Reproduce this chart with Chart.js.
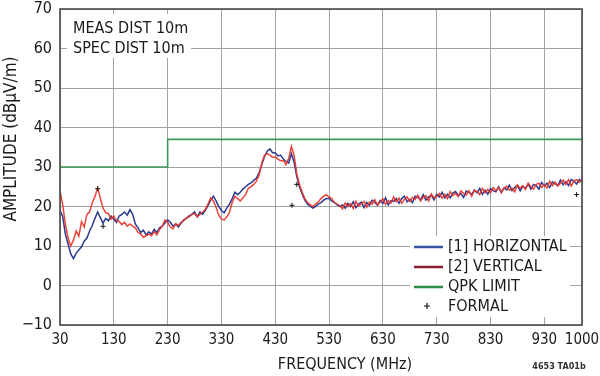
<!DOCTYPE html>
<html>
<head>
<meta charset="utf-8">
<script src="https://cdn.jsdelivr.net/npm/chart.js@4/dist/chart.umd.min.js"></script>
<style>
html,body{margin:0;padding:0;background:#fff;}
#wrap{width:600px;height:376px;position:relative;}
</style>
</head>
<body>
<div id="wrap"><canvas id="c" width="600" height="376"></canvas></div>
<script>
// ---- DATA ----
const freq = [30,35,40,45,50,55,60,65,70,75,80,85,90,95,100,105,110,115,120,125,130,135,140,145,150,155,160,165,170,175,180,185,190,195,200,205,210,215,220,225,230,235,240,245,250,255,260,265,270,275,280,285,290,295,300,305,310,315,320,325,330,335,340,345,350,355,360,365,370,375,380,385,390,395,400,405,410,415,420,425,430,435,440,445,450,455,460,465,470,475,480,485,490,495,500,505,510,515,520,525,530,535,540,545,550,555,560,565,570,575,580,585,590,595,600,605,610,615,620,625,630,635,640,645,650,655,660,665,670,675,680,685,690,695,700,705,710,715,720,725,730,735,740,745,750,755,760,765,770,775,780,785,790,795,800,805,810,815,820,825,830,835,840,845,850,855,860,865,870,875,880,885,890,895,900,905,910,915,920,925,930,935,940,945,950,955,960,965,970,975,980,985,990,995,1000];
const horizontal = [19.0,17.5,13.0,10.5,8.0,6.8,8.2,9.0,9.8,11.2,12.0,13.8,15.2,17.0,18.6,17.2,15.8,17.0,16.4,17.6,16.8,16.0,17.6,18.0,18.6,17.8,19.2,18.0,15.6,14.6,13.4,14.0,12.8,13.6,13.0,14.2,13.4,14.6,15.0,15.8,16.6,16.0,15.0,15.6,14.8,15.8,16.6,17.0,17.6,18.0,18.6,17.4,18.6,18.0,19.0,20.2,21.6,22.6,21.4,20.0,19.0,18.4,19.6,20.6,22.0,23.6,23.0,23.6,24.4,25.0,25.6,26.0,26.6,27.2,28.6,30.6,32.6,34.0,34.6,33.6,33.6,32.8,33.0,32.0,31.4,31.0,33.4,31.2,27.6,25.0,23.2,21.6,20.6,20.0,19.6,20.0,20.6,21.0,21.6,22.0,22.0,21.4,21.0,20.4,20.0,
  20.4,19.6,20.8,20.0,21.2,19.7,20.6,21.1,19.7,21.0,20.3,21.6,21.0,20.3,21.5,20.8,22.2,20.4,21.5,21.3,22.0,20.8,22.0,22.6,21.2,21.8,21.0,22.6,22.3,21.7,23.0,21.6,22.4,22.9,21.7,23.1,22.4,23.6,22.2,23.1,22.2,23.4,23.8,22.8,23.3,22.3,23.9,23.6,23.0,24.2,23.5,24.6,23.1,24.1,23.1,24.5,24.0,23.7,25.0,23.6,24.7,24.2,25.4,24.0,24.8,25.3,24.0,25.1,24.6,25.7,24.4,25.6,25.3,24.4,26.1,25.2,25.9,24.8,26.2,25.7,25.3,26.7,25.5,26.3,25.3,26.8,26.4,25.7,26.8,26.3];
const vertical = [24.0,20.5,15.5,12.0,10.0,11.5,13.8,12.5,16.2,14.8,18.0,18.6,21.0,22.5,24.8,22.0,19.6,18.4,18.2,16.8,17.6,16.4,16.2,15.4,16.0,15.0,15.6,15.0,14.6,13.4,13.0,12.2,12.6,13.0,12.6,13.6,12.8,14.2,15.0,16.6,16.0,14.8,14.4,15.6,15.2,16.0,16.4,17.2,17.4,18.0,18.2,17.4,18.0,18.6,19.2,20.6,22.2,21.4,19.8,17.8,16.8,16.6,17.4,18.6,21.0,22.6,22.0,21.4,22.2,23.0,24.6,25.0,25.6,26.4,28.0,31.0,33.0,33.4,33.0,32.4,32.6,32.0,31.6,31.6,30.6,32.2,35.2,33.0,28.2,25.6,23.6,22.0,21.0,20.4,20.0,20.6,21.2,22.0,22.6,23.0,22.4,22.0,21.0,20.6,20.2,
  19.4,20.9,20.0,20.7,19.5,21.3,20.1,20.7,21.3,19.8,21.1,20.6,21.7,20.4,21.1,22.0,20.5,21.5,20.9,22.4,21.2,22.1,20.8,21.8,22.4,21.3,22.3,21.8,22.9,21.4,22.4,22.7,21.4,23.2,22.2,22.5,23.3,22.1,23.1,22.0,23.8,22.8,23.3,22.5,24.0,23.3,22.9,24.0,22.6,24.0,23.8,23.0,24.6,23.5,24.3,23.5,24.8,24.0,24.8,23.5,24.6,25.1,24.1,24.6,23.7,25.5,24.6,25.3,24.3,25.9,25.0,24.4,25.6,25.9,24.8,25.6,24.7,26.4,25.3,26.2,25.2,25.9,26.7,25.6,26.8,25.2,26.5,26.8,26.1,27.0];
const limitFreq = [30,230,230,1000];
const limitValue = [30,30,37,37];
const formalFreq = [100,110,461,470,990];
const formalValue = [24.5,15,20.3,25.6,23];
const xTicks = [30,130,230,330,430,530,630,730,830,930,1000];
const yTicks = [-10,0,10,20,30,40,50,60,70];
const legendLabels = ['[1] HORIZONTAL','[2] VERTICAL','QPK LIMIT','FORMAL'];
const noteLines = ['MEAS DIST 10m','SPEC DIST 10m'];

const FONT = '"Liberation Sans Narrow","DejaVu Sans Condensed","Arial Narrow",sans-serif';
const pts = (xs, ys) => xs.map((x,i)=>({x:x,y:ys[i]}));

const decor = {
  id:'decor',
  afterDraw(chart){
    const ctx = chart.ctx, a = chart.chartArea;
    ctx.save();
    // border
    ctx.strokeStyle = '#4a4a4a';
    ctx.lineWidth = 1.6;
    ctx.strokeRect(a.left, a.top, a.right-a.left, a.bottom-a.top);
    // note box
    ctx.fillStyle = '#fff';
    ctx.fillRect(67, 14, 124, 44);
    ctx.fillStyle = '#1a1a1a';
    ctx.font = '16px ' + FONT;
    ctx.textBaseline = 'middle';
    ctx.textAlign = 'left';
    ctx.fillText(noteLines[0], 73, 29);
    ctx.fillText(noteLines[1], 73, 49);
    // legend
    ctx.fillStyle = '#fff';
    ctx.fillRect(410, 236, 160, 81);
    const cols = ['#3555a5','#8c1d2e','#2e8b45'];
    const rows = [247,267,287,307];
    for(let i=0;i<3;i++){
      ctx.strokeStyle = cols[i];
      ctx.lineWidth = 2.5;
      ctx.beginPath(); ctx.moveTo(414, rows[i]); ctx.lineTo(443, rows[i]); ctx.stroke();
    }
    ctx.strokeStyle = '#111'; ctx.lineWidth = 1.2;
    ctx.beginPath(); ctx.moveTo(424, 306); ctx.lineTo(430, 306); ctx.moveTo(427, 303); ctx.lineTo(427, 309); ctx.stroke();
    ctx.fillStyle = '#1a1a1a';
    ctx.font = '16px ' + FONT;
    for(let i=0;i<4;i++) ctx.fillText(legendLabels[i], 448, rows[i]);
    // axis titles
    ctx.textAlign = 'center';
    ctx.font = '16px ' + FONT;
    ctx.fillText('FREQUENCY (MHz)', 345, 365);
    ctx.save();
    ctx.translate(12, 139);
    ctx.rotate(-Math.PI/2);
    ctx.font = '17px ' + FONT;
    ctx.fillText('AMPLITUDE (dBµV/m)', 0, 0);
    ctx.restore();
    ctx.font = 'bold 9px ' + FONT;
    ctx.fillStyle = '#333';
    ctx.fillText('4653 TA01b', 559, 367);
    ctx.restore();
  }
};

new Chart(document.getElementById('c'), {
  type:'line',
  data:{
    datasets:[
      {label:'[1] HORIZONTAL', data:pts(freq,horizontal), borderColor:'#2b3a8e', borderWidth:1.5, pointRadius:0, order:3, tension:0},
      {label:'[2] VERTICAL', data:pts(freq,vertical), borderColor:'rgba(232,52,40,0.92)', borderWidth:1.5, pointRadius:0, order:2, tension:0},
      {label:'QPK LIMIT', data:pts(limitFreq,limitValue), borderColor:'#3a9a55', borderWidth:1.6, pointRadius:0, order:1},
      {label:'FORMAL', type:'scatter', data:pts(formalFreq,formalValue), pointStyle:'cross', pointRadius:2.5, borderColor:'#111', borderWidth:1, showLine:false, order:0}
    ]
  },
  options:{
    responsive:false,
    animation:false,
    layout:{padding:{left:0,top:9,right:18,bottom:0}},
    plugins:{legend:{display:false}, tooltip:{enabled:false}},
    scales:{
      x:{
        type:'linear', min:30, max:1000,
        afterBuildTicks(s){ s.ticks = xTicks.map(v=>({value:v})); },
        afterFit(s){ s.height = 51; s.paddingLeft = 0; s.paddingRight = 0; },
        grid:{color:'#a3a3a3', lineWidth:1, drawTicks:false},
        border:{display:false},
        ticks:{font:{family:FONT, size:15}, color:'#1a1a1a', padding:6, maxRotation:0, autoSkip:false,
          callback:(v)=> String(v)}
      },
      y:{
        min:-10, max:70,
        afterBuildTicks(s){ s.ticks = yTicks.map(v=>({value:v})); },
        afterFit(s){ s.width = 60; s.paddingTop = 0; s.paddingBottom = 0; },
        grid:{color:'#a3a3a3', lineWidth:1, drawTicks:false},
        border:{display:false},
        ticks:{font:{family:FONT, size:16}, color:'#1a1a1a', padding:8,
          callback:(v)=> v<0 ? '\u2212'+Math.abs(v) : String(v)}
      }
    }
  },
  plugins:[decor]
});
</script>
</body>
</html>
